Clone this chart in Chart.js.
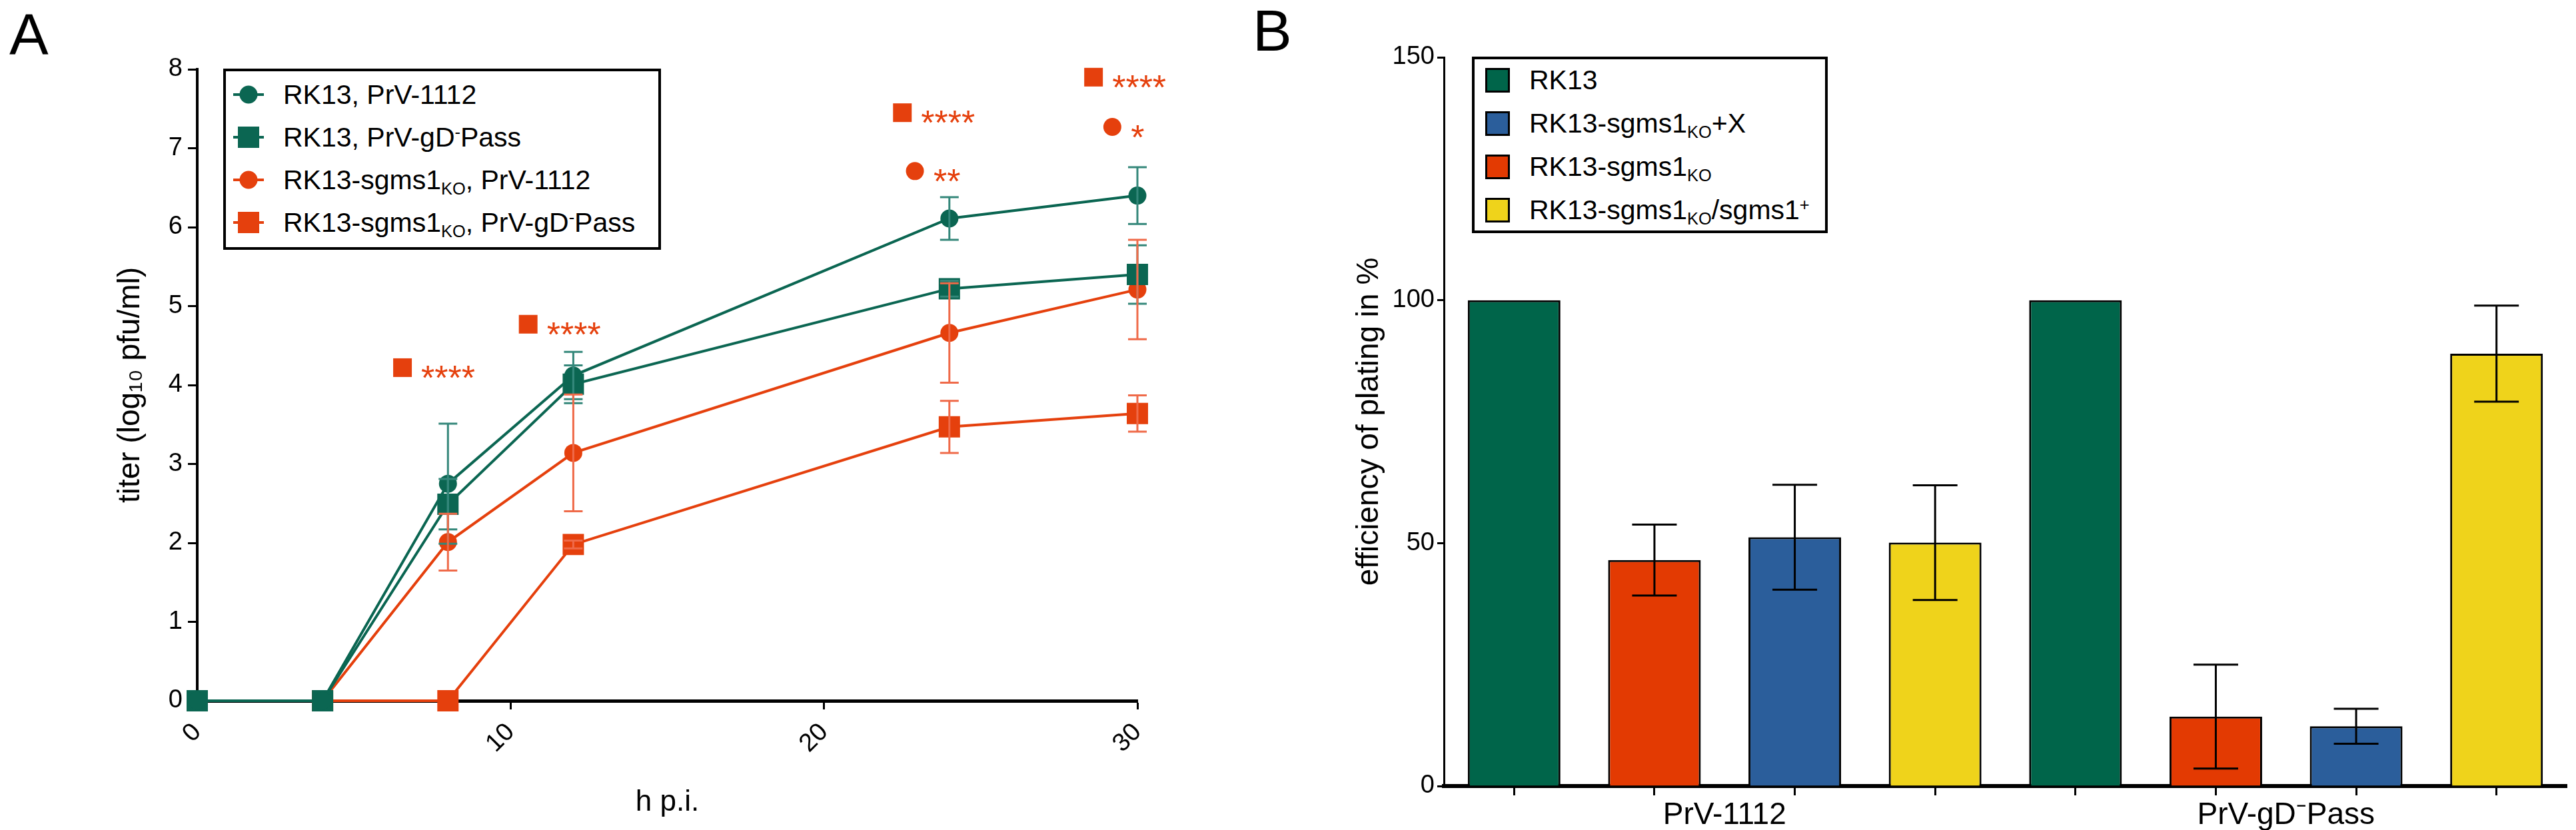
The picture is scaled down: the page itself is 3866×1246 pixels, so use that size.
<!DOCTYPE html>
<html>
<head>
<meta charset="utf-8">
<script src="https://cdn.jsdelivr.net/npm/chart.js@4.4.1/dist/chart.umd.min.js"></script>
<style>
  body { margin:0; background:#fff; width:3866px; height:1246px; overflow:hidden; position:relative;
         font-family:'Liberation Sans', Arial, sans-serif; color:#000; }
  canvas { position:absolute; top:0; }
  #chartA { left:0; }
  #chartB { left:1933px; }
  .panel { position:absolute; font-size:88px; line-height:1; }
  .legend { position:absolute; border:4px solid #000; box-sizing:border-box; background:#fff; font-size:41px; }
  .legend .row { position:absolute; left:0; height:64px; display:flex; align-items:center; white-space:nowrap; }
  .legend sub { font-size:0.62em; position:relative; top:0.32em; vertical-align:baseline; line-height:0; }
  .legend sup { font-size:0.62em; position:relative; top:-0.5em; vertical-align:baseline; line-height:0; }
  .key.line { position:relative; width:46px; height:36px; margin-left:11px; margin-right:29px; }
  .key.line::before { content:''; position:absolute; left:0; right:0; top:50%; height:4px; margin-top:-2px; background:var(--c); }
  .key.line::after { content:''; position:absolute; left:50%; top:50%; width:27px; height:27px; border-radius:50%;
                     transform:translate(-50%,-50%); background:var(--c); }
  .key.line.sq::after { width:32px; height:32px; border-radius:0; }
  .key.box { width:31px; height:31px; border:3px solid #000; margin-left:16px; margin-right:29px; }
</style>
</head>
<body>
<canvas id="chartA" width="1933" height="1246"></canvas>
<canvas id="chartB" width="1933" height="1246"></canvas>
<div class="panel" style="left:14px; top:8px;">A</div>
<div class="panel" style="left:1880px; top:2px;">B</div>
<div id="legendA" class="legend" style="left:335px; top:103px; width:657px; height:272px;"></div>
<div id="legendB" class="legend" style="left:2209px; top:85px; width:534px; height:265px;"></div>
<script>
// ---- panel A: growth kinetics ----
const hpi = [0, 4, 8, 12, 24, 30];
const titerRk13Wt = [0, 0, 2.75, 4.12, 6.11, 6.40];
const sdRk13Wt = [0, 0, 0.76, 0.30, 0.27, 0.36];
const titerRk13Pass = [0, 0, 2.49, 4.01, 5.22, 5.40];
const sdRk13Pass = [0, 0, 0.32, 0.24, 0.10, 0.37];
const titerKoWt = [0, 0, 2.01, 3.14, 4.66, 5.21];
const sdKoWt = [0, 0, 0.36, 0.74, 0.63, 0.63];
const titerKoPass = [0, 0, 0, 1.98, 3.47, 3.64];
const sdKoPass = [0, 0, 0, 0.05, 0.33, 0.23];
const hpiTicks = [0, 10, 20, 30];
const titerTicks = [0, 1, 2, 3, 4, 5, 6, 7, 8];

// significance marks
const sigX = [6.55, 10.56, 22.5, 22.9, 28.6, 29.2];
const sigY = [4.22, 4.77, 7.45, 6.71, 7.9, 7.27];
const sigShape = ['rect', 'rect', 'rect', 'circle', 'rect', 'circle'];
const sigStars = ['****', '****', '****', '**', '****', '*'];

// ---- panel B: efficiency of plating ----
const viruses = ['PrV-1112', 'PrV-gD\u207BPass'];
const cellLines = ['RK13', 'RK13-sgms1KO+X', 'RK13-sgms1KO', 'RK13-sgms1KO/sgms1+'];
const barSlot = [0, 2, 1, 3];   // position of each cell line inside a virus group
const eopRk13 = [100, 100];
const eopKoX = [51.2, 12.3];
const sdKoX = [10.8, 3.6];
const eopKo = [46.5, 14.3];
const sdKo = [7.3, 10.7];
const eopKoRescue = [50.1, 89.0];
const sdKoRescue = [11.8, 9.9];
const eopTicks = [0, 50, 100, 150];

const TEAL = '#0b6652';
const ORANGE = '#e5400d';
const FONT = "'Liberation Sans', Arial, sans-serif";

Chart.defaults.font.family = FONT;
Chart.defaults.color = '#000';

function markup(t) {
  return t.replace(/KO/g, '<sub>KO</sub>')
          .replace(/gD-/g, 'gD<sup>-</sup>')
          .replace(/sgms1\+$/, 'sgms1<sup>+</sup>');
}

// legend as html so the subscripts stay real text
const htmlLegend = {
  id: 'htmlLegend',
  afterUpdate(chart, args, opts) {
    const box = document.getElementById(opts.containerID);
    box.innerHTML = '';
    const items = chart.options.plugins.legend.labels.generateLabels(chart)
      .filter(item => !chart.data.datasets[item.datasetIndex].noLegend);
    items.forEach((item, i) => {
      const ds = chart.data.datasets[item.datasetIndex];
      const row = document.createElement('div');
      row.className = 'row';
      row.style.top = (opts.firstTop + i * opts.rowStep) + 'px';
      const key = document.createElement('span');
      if (opts.keyType === 'line') {
        key.className = 'key line' + (ds.pointStyle === 'rect' ? ' sq' : '');
        key.style.setProperty('--c', item.strokeStyle);
      } else {
        key.className = 'key box';
        key.style.background = item.fillStyle;
      }
      const text = document.createElement('span');
      text.innerHTML = markup(item.text);
      row.append(key, text);
      box.appendChild(row);
    });
  }
};

const errorBars = {
  id: 'errorBars',
  afterDatasetsDraw(chart, args, opts) {
    const ctx = chart.ctx;
    const y = chart.scales.y;
    chart.data.datasets.forEach((ds, di) => {
      if (!ds.errors) return;
      const meta = chart.getDatasetMeta(di);
      ctx.save();
      ctx.strokeStyle = ds.errorColor || '#000';
      ctx.lineWidth = opts.lineWidth;
      meta.data.forEach((el, i) => {
        const d = ds.data[i];
        const v = (d !== null && typeof d === 'object') ? d.y : d;
        const sd = ds.errors[i];
        if (v === null || v === undefined || !sd) return;
        const top = y.getPixelForValue(v + sd);
        const bot = y.getPixelForValue(v - sd);
        const w = opts.capWidth / 2;
        ctx.beginPath();
        ctx.moveTo(el.x, top); ctx.lineTo(el.x, bot);
        ctx.moveTo(el.x - w, top); ctx.lineTo(el.x + w, top);
        ctx.moveTo(el.x - w, bot); ctx.lineTo(el.x + w, bot);
        ctx.stroke();
      });
      ctx.restore();
    });
  }
};

const starLabels = {
  id: 'starLabels',
  afterDatasetsDraw(chart) {
    const ctx = chart.ctx;
    chart.data.datasets.forEach((ds, di) => {
      if (!ds.stars) return;
      const meta = chart.getDatasetMeta(di);
      ctx.save();
      ctx.fillStyle = ds.backgroundColor;
      ctx.font = '52px ' + FONT;
      ctx.textBaseline = 'alphabetic';
      meta.data.forEach((pt, i) => ctx.fillText(ds.stars[i], pt.x + 28, pt.y + 33));
      ctx.restore();
    });
  }
};

function lineSet(label, values, sd, color, style) {
  return {
    label: label,
    data: hpi.map((h, i) => ({ x: h, y: values[i] })),
    errors: sd,
    errorColor: color === TEAL ? '#34877a' : '#ef6a49',
    borderColor: color,
    backgroundColor: color,
    borderWidth: 4,
    pointStyle: style,
    pointRadius: style === 'rect' ? 22.6 : 13.5,
    pointBorderWidth: 0,
    pointHoverRadius: 0,
    tension: 0,
    clip: false
  };
}

new Chart(document.getElementById('chartA'), {
  type: 'line',
  data: {
    datasets: [
      lineSet('RK13, PrV-1112', titerRk13Wt, sdRk13Wt, TEAL, 'circle'),
      lineSet('RK13, PrV-gD-Pass', titerRk13Pass, sdRk13Pass, TEAL, 'rect'),
      lineSet('RK13-sgms1KO, PrV-1112', titerKoWt, sdKoWt, ORANGE, 'circle'),
      lineSet('RK13-sgms1KO, PrV-gD-Pass', titerKoPass, sdKoPass, ORANGE, 'rect'),
      {
        type: 'scatter',
        label: 'significance',
        noLegend: true,
        data: sigX.map((x, i) => ({ x: x, y: sigY[i] })),
        stars: sigStars,
        pointStyle: sigShape,
        pointRadius: sigShape.map(s => s === 'rect' ? 19.8 : 13.5),
        pointBorderWidth: 0,
        backgroundColor: ORANGE,
        borderColor: ORANGE,
        showLine: false,
        clip: false
      }
    ]
  },
  options: {
    responsive: false,
    animation: false,
    devicePixelRatio: 1,
    events: [],
    layout: { padding: { top: 104, right: 226, bottom: 0, left: 0 } },
    plugins: {
      legend: { display: false },
      tooltip: { enabled: false },
      htmlLegend: { containerID: 'legendA', keyType: 'line', firstTop: 3, rowStep: 64 },
      errorBars: { lineWidth: 3, capWidth: 28 }
    },
    scales: {
      x: {
        type: 'linear',
        min: 0, max: 30,
        afterBuildTicks: s => { s.ticks = hpiTicks.map(v => ({ value: v })); },
        afterFit: s => { s.height = 194; },
        border: { display: true, color: '#000', width: 5 },
        grid: { drawOnChartArea: false, drawTicks: true, tickLength: 13, tickWidth: 3, tickColor: '#000' },
        ticks: { font: { size: 38 }, minRotation: 45, maxRotation: 45, padding: 12 },
        title: { display: true, text: 'h p.i.', font: { size: 44 }, padding: { top: 0, bottom: 15 } }
      },
      y: {
        min: 0, max: 8,
        afterBuildTicks: s => { s.ticks = titerTicks.map(v => ({ value: v })); },
        afterFit: s => { s.width = 296; },
        border: { display: true, color: '#000', width: 4 },
        grid: { drawOnChartArea: false, drawTicks: true, tickLength: 14, tickWidth: 3, tickColor: '#000' },
        ticks: { font: { size: 38 }, padding: 8 },
        title: { display: true, text: 'titer (log\u2081\u2080 pfu/ml)', font: { size: 46 }, padding: { top: 169, bottom: 0 } }
      }
    }
  },
  plugins: [htmlLegend, errorBars, starLabels]
});

// one category per bar, four bars per virus
const slotLabels = [];
viruses.forEach(v => {
  for (let pos = 0; pos < cellLines.length; pos++) {
    slotLabels.push(v + ' / ' + cellLines[barSlot.indexOf(pos)]);
  }
});

function barSet(c, values, sd, color) {
  const data = slotLabels.map(() => null);
  const errs = slotLabels.map(() => null);
  viruses.forEach((v, vi) => {
    data[vi * cellLines.length + barSlot[c]] = values[vi];
    errs[vi * cellLines.length + barSlot[c]] = sd ? sd[vi] : null;
  });
  return {
    label: cellLines[c],
    data: data,
    errors: errs,
    backgroundColor: color,
    borderColor: '#000',
    borderWidth: 3,
    grouped: false,
    barPercentage: 0.66,
    categoryPercentage: 1
  };
}

new Chart(document.getElementById('chartB'), {
  type: 'bar',
  data: {
    labels: slotLabels,
    datasets: [
      barSet(0, eopRk13, null, '#00654a'),
      barSet(1, eopKoX, sdKoX, '#2b5e9b'),
      barSet(2, eopKo, sdKo, '#e33a02'),
      barSet(3, eopKoRescue, sdKoRescue, '#efd31b')
    ]
  },
  options: {
    responsive: false,
    animation: false,
    devicePixelRatio: 1,
    events: [],
    layout: { padding: { top: 86, right: 14, bottom: 0, left: 0 } },
    plugins: {
      legend: { display: false },
      tooltip: { enabled: false },
      htmlLegend: { containerID: 'legendB', keyType: 'box', firstTop: -1, rowStep: 65 },
      errorBars: { lineWidth: 3, capWidth: 67 }
    },
    scales: {
      x: {
        type: 'category',
        offset: true,
        weight: 0,
        afterFit: s => { s.height = 9; },
        border: { display: true, color: '#000', width: 6 },
        grid: { offset: false, drawOnChartArea: false, drawTicks: true, tickLength: 14, tickWidth: 3, tickColor: '#000' },
        ticks: { autoSkip: false, callback: () => '' }
      },
      xGroup: {
        type: 'category',
        axis: 'x',
        position: 'bottom',
        labels: viruses,
        offset: true,
        weight: 1,
        afterFit: s => { s.height = 57; },
        border: { display: false },
        grid: { display: false },
        ticks: { font: { size: 46 }, padding: 0, autoSkip: false, maxRotation: 0 }
      },
      y: {
        min: 0, max: 150,
        afterBuildTicks: s => { s.ticks = eopTicks.map(v => ({ value: v })); },
        afterFit: s => { s.width = 234; },
        border: { display: true, color: '#000', width: 3 },
        grid: { drawOnChartArea: false, drawTicks: true, tickLength: 10, tickWidth: 3, tickColor: '#000' },
        ticks: { font: { size: 38 }, padding: 4 },
        title: { display: true, text: 'efficiency of plating in %', font: { size: 46 }, padding: { top: 95, bottom: 0 } }
      }
    }
  },
  plugins: [htmlLegend, errorBars]
});
</script>
</body>
</html>
